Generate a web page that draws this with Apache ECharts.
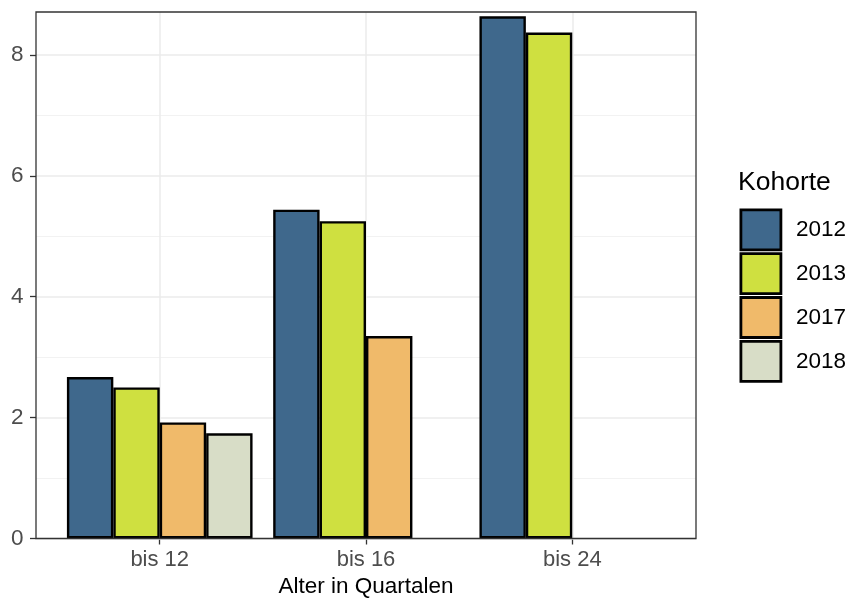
<!DOCTYPE html>
<html>
<head>
<meta charset="utf-8">
<script src="https://cdn.jsdelivr.net/npm/echarts@6/dist/echarts.min.js"></script>
<style>html,body{margin:0;padding:0;background:#fff;}#chart{width:847px;height:599px;}</style>
</head>
<body>
<div id="chart"></div>
<script>
const categories = ['bis 12', 'bis 16', 'bis 24'];
const cohorts = ['2012', '2013', '2017', '2018'];
const v2012 = [2.67, 5.44, 8.64];
const v2013 = [2.50, 5.25, 8.37];
const v2017 = [1.92, 3.35, null];
const v2018 = [1.74, null, null];
const yTicks = [0, 2, 4, 6, 8];
const yMinorTicks = [1, 3, 5, 7];
const yMax = 8.71;
const categoryPositions = [0, 1, 2];

const seriesValues = [v2012, v2013, v2017, v2018];
const colors = ['#3f688c', '#cfe040', '#f0ba6a', '#d8ddc7'];
const FONT = 'Liberation Sans, Arial, sans-serif';

const chart = echarts.init(document.getElementById('chart'), null, {renderer: 'canvas'});

const series = cohorts.map((name, i) => ({
  name: name,
  type: 'bar',
  xAxisIndex: 1,
  yAxisIndex: 2,
  data: seriesValues[i],
  barGap: '0%',
  barCategoryGap: '10%',
  itemStyle: {color: colors[i], borderColor: '#000', borderWidth: 2.4},
  emphasis: {disabled: true},
  z: 3
}));

const option = {
  animation: false,
  textStyle: {fontFamily: FONT},
  title: {
    text: 'Kohorte', left: 738, top: 169, padding: 0,
    textStyle: {fontSize: 26.5, fontWeight: 'normal', color: '#000', fontFamily: FONT}
  },
  legend: {
    orient: 'vertical', left: 739.5, top: 208.5, padding: 0,
    itemWidth: 40, itemHeight: 40, itemGap: 1,
    icon: 'rect',
    data: cohorts,
    itemStyle: {borderWidth: 2.8, borderColor: '#000'},
    textStyle: {fontSize: 22.5, lineHeight: 26, color: '#000', fontFamily: FONT, padding: [0, 0, 0, 10]}
  },
  grid: [
    {left: 36, right: 151, top: 12, bottom: 60.5, show: true, borderColor: '#333333', borderWidth: 1.3, backgroundColor: 'transparent', z: 4, containLabel: false, outerBoundsMode: 'none'},
    {left: 56.6, right: 171.6, top: 12, bottom: 60.5, containLabel: false, outerBoundsMode: 'none'}
  ],
  xAxis: [
    {
      gridIndex: 0, type: 'category', data: categories,
      axisLine: {show: false}, axisTick: {show: false}, axisLabel: {show: false}, splitLine: {show: false},
      name: 'Alter in Quartalen', nameLocation: 'middle', nameGap: 37,
      nameTextStyle: {fontSize: 22.5, color: '#000', fontFamily: FONT}
    },
    {
      gridIndex: 1, type: 'category', data: categories,
      axisLine: {show: false},
      axisTick: {show: true, alignWithLabel: true, length: 6, lineStyle: {color: '#333333', width: 1.3}},
      axisLabel: {fontSize: 22, color: '#4d4d4d', margin: 10, fontFamily: FONT},
      splitLine: {show: false}
    },
    {
      gridIndex: 1, type: 'value', min: -0.5, max: 2.5, position: 'top',
      axisLine: {show: false},
      axisTick: {show: false, customValues: categoryPositions},
      axisLabel: {show: false, customValues: categoryPositions},
      splitLine: {show: true, lineStyle: {color: '#ebebeb', width: 1.5}},
      z: 0
    }
  ],
  yAxis: [
    {
      gridIndex: 0, type: 'value', min: 0, max: yMax, interval: 2,
      axisLine: {show: false},
      axisTick: {show: true, length: 6, customValues: yTicks, lineStyle: {color: '#333333', width: 1.3}},
      axisLabel: {fontSize: 22.5, color: '#4d4d4d', margin: 12.5, customValues: yTicks, fontFamily: FONT,
        formatter: v => (yTicks.indexOf(v) >= 0 ? String(v) : '')},
      splitLine: {show: true, lineStyle: {color: '#ebebeb', width: 1.5}},
      z: 1
    },
    {
      gridIndex: 0, type: 'value', min: 0, max: yMax, interval: 1, position: 'left',
      axisLine: {show: false}, axisTick: {show: false, customValues: yMinorTicks}, axisLabel: {show: false, customValues: yMinorTicks},
      splitLine: {show: true, lineStyle: {color: '#f2f2f2', width: 1}},
      z: 0
    },
    {
      gridIndex: 1, type: 'value', min: 0, max: yMax, interval: 2,
      axisLine: {show: false}, axisTick: {show: false}, axisLabel: {show: false}, splitLine: {show: false}
    }
  ],
  series: series
};
chart.setOption(option);
</script>
</body>
</html>
